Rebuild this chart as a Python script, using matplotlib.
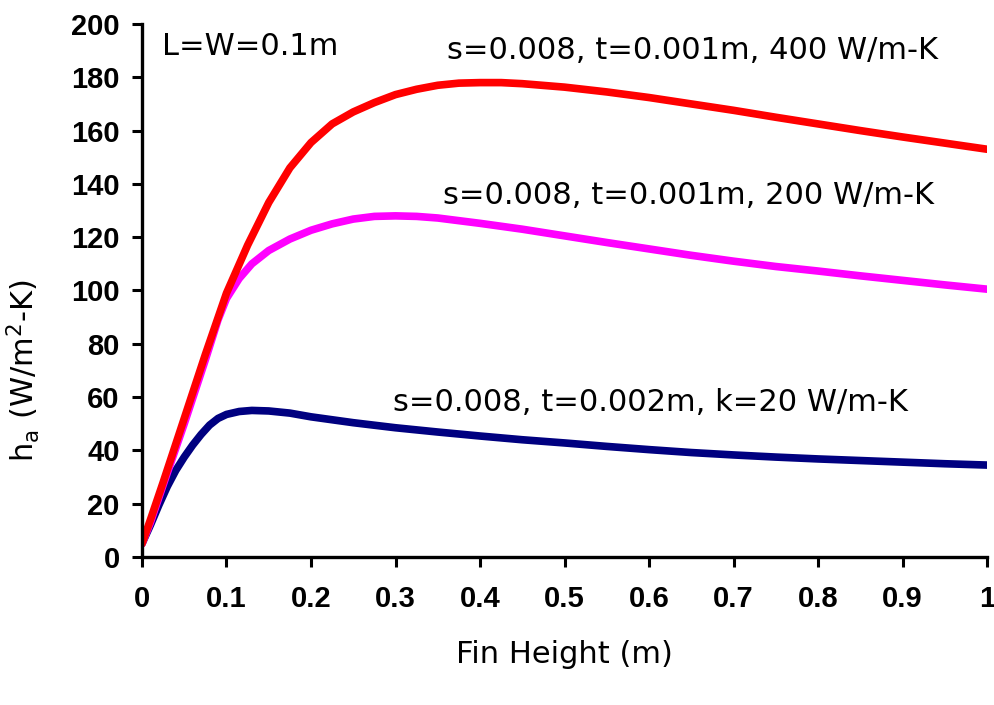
import matplotlib
matplotlib.use("Agg")
import matplotlib.pyplot as plt

# ---------------------------------------------------------
# DATOS
# ---------------------------------------------------------

x_400 = [0, 0.01, 0.025, 0.05, 0.075, 0.1, 0.125, 0.15, 0.175, 0.2,
         0.225, 0.25, 0.275, 0.3, 0.325, 0.35, 0.375, 0.4, 0.425, 0.45,
         0.5, 0.55, 0.6, 0.65, 0.7, 0.75, 0.8, 0.85, 0.9, 0.95, 1.0]
h_400 = [5, 14, 28, 52, 76, 99, 117, 133, 146, 155.5,
         162.5, 167, 170.5, 173.5, 175.5, 177, 177.8, 178, 178, 177.6,
         176.3, 174.5, 172.4, 170, 167.6, 165, 162.5, 160, 157.6, 155.3, 153]

x_200 = [0, 0.01, 0.025, 0.05, 0.075, 0.09, 0.1, 0.115, 0.13, 0.15, 0.175,
         0.2, 0.225, 0.25, 0.275, 0.3, 0.325, 0.35, 0.4, 0.45, 0.5, 0.55,
         0.6, 0.65, 0.7, 0.75, 0.8, 0.85, 0.9, 0.95, 1.0]
h_200 = [5, 13, 27, 50, 74, 89, 97, 104.5, 110, 115, 119.3,
         122.6, 125, 126.8, 127.8, 128, 127.8, 127.2, 125.2, 123, 120.5, 118,
         115.6, 113.2, 111, 109, 107.3, 105.5, 103.8, 102.1, 100.5]

x_20 = [0, 0.01, 0.02, 0.03, 0.04, 0.05, 0.06, 0.07, 0.08, 0.09, 0.1,
        0.115, 0.13, 0.15, 0.175, 0.2, 0.25, 0.3, 0.35, 0.4, 0.45, 0.5,
        0.55, 0.6, 0.65, 0.7, 0.75, 0.8, 0.85, 0.9, 0.95, 1.0]
h_20 = [5, 12, 19.5, 26.5, 32.5, 37.5, 42, 46, 49.5, 52, 53.5,
        54.6, 55, 54.8, 54, 52.6, 50.4, 48.5, 46.9, 45.4, 44, 42.8,
        41.5, 40.3, 39.2, 38.3, 37.5, 36.8, 36.2, 35.6, 35, 34.5]

x_ticks = [0, 0.1, 0.2, 0.3, 0.4, 0.5, 0.6, 0.7, 0.8, 0.9, 1]
x_ticklabels = ["0", "0.1", "0.2", "0.3", "0.4", "0.5", "0.6", "0.7", "0.8", "0.9", "1"]
y_ticks = list(range(0, 201, 20))

# ---------------------------------------------------------
# GRÁFICA
# ---------------------------------------------------------

fig = plt.figure(figsize=(9.95, 7.05), dpi=100)
ax = fig.add_axes([0.1427, 0.2099, 0.8493, 0.7561])

estilo = dict(linewidth=5.5, solid_capstyle="round", solid_joinstyle="round")
ax.plot(x_20, h_20, color="#000080", **estilo)
ax.plot(x_200, h_200, color="#FF00FF", **estilo)
ax.plot(x_400, h_400, color="#FF0000", **estilo)

ax.set_xlim(0, 1)
ax.set_ylim(0, 200)

ax.spines["top"].set_visible(False)
ax.spines["right"].set_visible(False)
ax.spines["left"].set_linewidth(2.4)
ax.spines["bottom"].set_linewidth(2.4)

ax.set_xticks(x_ticks)
ax.set_xticklabels(x_ticklabels)
ax.set_yticks(y_ticks)

ax.tick_params(axis="both", direction="out", length=7, width=2.2, color="black")
ax.tick_params(axis="y", pad=9)
ax.tick_params(axis="x", pad=13)
for lab in ax.get_xticklabels() + ax.get_yticklabels():
    lab.set_fontfamily("Liberation Sans")
    lab.set_fontweight("bold")
    lab.set_fontsize(21)

ax.set_xlabel("Fin Height (m)", fontsize=22, family="DejaVu Sans")
ax.xaxis.set_label_coords(0.5, -0.155)
ax.set_ylabel(r"h$_\mathregular{a}$ (W/m$^\mathregular{2}$-K)", fontsize=22,
              family="DejaVu Sans")
ax.yaxis.set_label_coords(-0.118, 0.35)

txt = dict(fontsize=22, family="DejaVu Sans", ha="left", va="center")
ax.text(0.024, 191.5, "L=W=0.1m", **txt)
ax.text(0.361, 190, "s=0.008, t=0.001m, 400 W/m-K", **txt)
ax.text(0.356, 135.5, "s=0.008, t=0.001m, 200 W/m-K", **txt)
ax.text(0.297, 57.8, "s=0.008, t=0.002m, k=20 W/m-K", **txt)

plt.savefig("out.png", dpi=100)
plt.close()
